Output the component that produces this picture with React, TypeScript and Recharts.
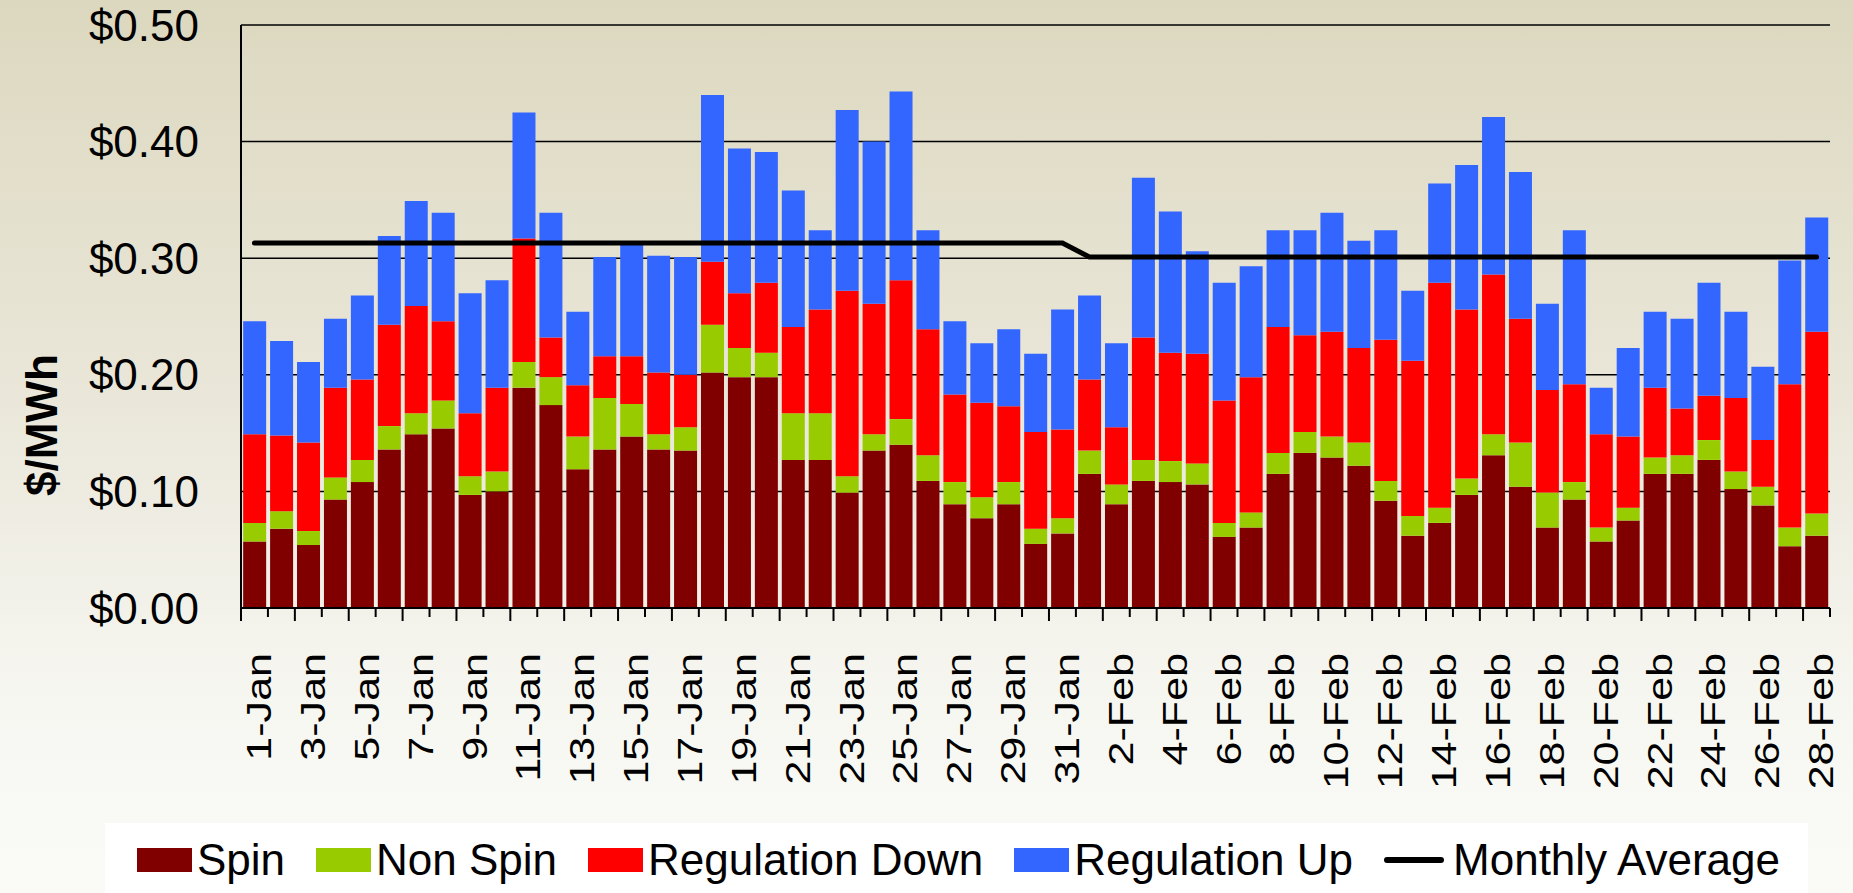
import React from "react"
import {
  ComposedChart,
  Bar,
  Line,
  XAxis,
  YAxis,
  CartesianGrid
} from "recharts"

const days = [
  "1-Jan", "2-Jan", "3-Jan", "4-Jan", "5-Jan", "6-Jan", "7-Jan", "8-Jan", "9-Jan", "10-Jan",
  "11-Jan", "12-Jan", "13-Jan", "14-Jan", "15-Jan", "16-Jan", "17-Jan", "18-Jan", "19-Jan", "20-Jan",
  "21-Jan", "22-Jan", "23-Jan", "24-Jan", "25-Jan", "26-Jan", "27-Jan", "28-Jan", "29-Jan", "30-Jan",
  "31-Jan",
  "1-Feb", "2-Feb", "3-Feb", "4-Feb", "5-Feb", "6-Feb", "7-Feb", "8-Feb", "9-Feb", "10-Feb",
  "11-Feb", "12-Feb", "13-Feb", "14-Feb", "15-Feb", "16-Feb", "17-Feb", "18-Feb", "19-Feb", "20-Feb",
  "21-Feb", "22-Feb", "23-Feb", "24-Feb", "25-Feb", "26-Feb", "27-Feb", "28-Feb"
]

const spin = [
  0.057, 0.068, 0.054, 0.093, 0.108, 0.136, 0.149, 0.154, 0.097, 0.100,
  0.189, 0.174, 0.119, 0.136, 0.147, 0.136, 0.135, 0.202, 0.198, 0.198,
  0.127, 0.127, 0.099, 0.135, 0.140, 0.109, 0.089, 0.077, 0.089, 0.055,
  0.064,
  0.115, 0.089, 0.109, 0.108, 0.106, 0.061, 0.069, 0.115, 0.133, 0.129,
  0.122, 0.092, 0.062, 0.073, 0.097, 0.131, 0.104, 0.069, 0.093, 0.057,
  0.075, 0.115, 0.115, 0.127, 0.102, 0.088, 0.053, 0.062
]

const nonSpin = [
  0.016, 0.015, 0.012, 0.019, 0.019, 0.020, 0.018, 0.024, 0.016, 0.017,
  0.022, 0.024, 0.028, 0.044, 0.028, 0.013, 0.020, 0.041, 0.025, 0.021,
  0.040, 0.040, 0.014, 0.014, 0.022, 0.022, 0.019, 0.018, 0.019, 0.013,
  0.013,
  0.020, 0.017, 0.018, 0.018, 0.018, 0.012, 0.013, 0.018, 0.018, 0.018,
  0.020, 0.017, 0.017, 0.013, 0.014, 0.018, 0.038, 0.030, 0.015, 0.012,
  0.011, 0.014, 0.016, 0.017, 0.015, 0.016, 0.016, 0.019
]

const regDown = [
  0.076, 0.065, 0.076, 0.077, 0.069, 0.087, 0.092, 0.068, 0.054, 0.072,
  0.106, 0.034, 0.044, 0.036, 0.041, 0.053, 0.045, 0.054, 0.047, 0.060,
  0.074, 0.089, 0.159, 0.112, 0.119, 0.108, 0.075, 0.081, 0.065, 0.083,
  0.076,
  0.061, 0.049, 0.105, 0.093, 0.094, 0.105, 0.116, 0.108, 0.083, 0.090,
  0.081, 0.121, 0.133, 0.193, 0.145, 0.137, 0.106, 0.088, 0.084, 0.080,
  0.061, 0.060, 0.040, 0.038, 0.063, 0.040, 0.123, 0.156
]

const regUp = [
  0.097, 0.081, 0.069, 0.059, 0.072, 0.076, 0.090, 0.093, 0.103, 0.092,
  0.108, 0.107, 0.063, 0.085, 0.096, 0.100, 0.101, 0.143, 0.124, 0.112,
  0.117, 0.068, 0.155, 0.139, 0.162, 0.085, 0.063, 0.051, 0.066, 0.067,
  0.103,
  0.072, 0.072, 0.137, 0.121, 0.088, 0.101, 0.095, 0.083, 0.090, 0.102,
  0.092, 0.094, 0.060, 0.085, 0.124, 0.135, 0.126, 0.074, 0.132, 0.040,
  0.076, 0.065, 0.077, 0.097, 0.074, 0.063, 0.106, 0.098
]

const months = ["Jan", "Feb"]
const monthlyAverage = [0.313, 0.301]

const yTicks = [0, 0.1, 0.2, 0.3, 0.4, 0.5]

const data = days.map((day, i) => ({
  day,
  spin: spin[i],
  nonSpin: nonSpin[i],
  regDown: regDown[i],
  regUp: regUp[i],
  avg: monthlyAverage[months.indexOf(day.split("-")[1])]
}))

const W = 1853
const H = 893
const PLOT_LEFT = 241
const PLOT_RIGHT = 23
const BAND = (W - PLOT_LEFT - PLOT_RIGHT) / days.length
const FONT = "'Liberation Sans', Arial, sans-serif"

const COLORS = {
  spin: "#800000",
  nonSpin: "#99CC00",
  regDown: "#FF0000",
  regUp: "#3366FF"
}

function DayTick(props: any) {
  const { x, y, payload, index } = props
  const left = x - BAND / 2
  return (
    <g>
      <line x1={left} x2={left} y1={y} y2={y + (index % 2 === 0 ? 13 : 9)} stroke="#000" strokeWidth={2} />
      {index === days.length - 1 && (
        <line x1={x + BAND / 2} x2={x + BAND / 2} y1={y} y2={y + 9} stroke="#000" strokeWidth={2} />
      )}
      {index % 2 === 0 && (
        <text
          transform={`translate(${x + 4},${y + 45}) rotate(-90) scale(1.23,1)`}
          textAnchor="end"
          dy="0.36em"
          fontSize={35}
          fontFamily={FONT}
          fill="#000"
        >
          {payload.value}
        </text>
      )}
    </g>
  )
}

const legendItems = [
  { name: "Spin", color: COLORS.spin },
  { name: "Non Spin", color: COLORS.nonSpin },
  { name: "Regulation Down", color: COLORS.regDown },
  { name: "Regulation Up", color: COLORS.regUp }
]

export default function App() {
  return (
    <div
      style={{
        position: "absolute",
        left: 0,
        top: 0,
        width: W,
        height: H,
        background: "linear-gradient(180deg, #DCD8BF 0%, #EAE7DA 45%, #F7F7F2 80%, #FAFAF7 100%)",
        fontFamily: FONT
      }}
    >
      <ComposedChart
        width={W}
        height={H}
        data={data}
        margin={{ top: 25, right: PLOT_RIGHT, bottom: 0, left: 0 }}
        barCategoryGap="8%"
      >
        <CartesianGrid horizontal vertical={false} stroke="#000" strokeWidth={1.5} />
        <XAxis
          dataKey="day"
          interval={0}
          height={285}
          tickLine={false}
          tickSize={0}
          tickMargin={0}
          axisLine={{ stroke: "#000", strokeWidth: 2 }}
          tick={<DayTick />}
        />
        <YAxis
          width={PLOT_LEFT}
          domain={[0, 0.5]}
          ticks={yTicks}
          tickFormatter={(v: number) => `$${v.toFixed(2)}`}
          tickLine={false}
          tickSize={0}
          tickMargin={42}
          axisLine={{ stroke: "#000", strokeWidth: 2 }}
          tick={{ fontSize: 44, fill: "#000", fontFamily: FONT }}
          label={{
            content: () => (
              <text
                transform="translate(57,425) rotate(-90)"
                textAnchor="middle"
                fontSize={44}
                fontWeight="bold"
                fontFamily={FONT}
                fill="#000"
              >
                $/MWh
              </text>
            )
          }}
        />
        <YAxis
          yAxisId="right"
          orientation="right"
          width={0}
          domain={[0, 0.5]}
          tick={false}
          tickLine={false}
          axisLine={{ stroke: "#000", strokeWidth: 2 }}
        />
        <Bar dataKey="spin" stackId="a" fill={COLORS.spin} isAnimationActive={false} />
        <Bar dataKey="nonSpin" stackId="a" fill={COLORS.nonSpin} isAnimationActive={false} />
        <Bar dataKey="regDown" stackId="a" fill={COLORS.regDown} isAnimationActive={false} />
        <Bar dataKey="regUp" stackId="a" fill={COLORS.regUp} isAnimationActive={false} />
        <Line
          dataKey="avg"
          type="linear"
          stroke="#000"
          strokeWidth={5}
          strokeLinecap="round"
          dot={false}
          activeDot={false}
          isAnimationActive={false}
        />
      </ComposedChart>

      <div
        style={{
          position: "absolute",
          left: 105,
          top: 823,
          width: 1703,
          height: 70,
          background: "#fff",
          display: "flex",
          alignItems: "center",
          paddingLeft: 32,
          paddingTop: 4,
          boxSizing: "border-box",
          fontSize: 44,
          color: "#000"
        }}
      >
        {legendItems.map((item) => (
          <div key={item.name} style={{ display: "flex", alignItems: "center", marginRight: 31 }}>
            <div style={{ width: 55, height: 24, background: item.color, marginRight: 5 }} />
            <span>{item.name}</span>
          </div>
        ))}
        <div style={{ display: "flex", alignItems: "center" }}>
          <div style={{ width: 60, height: 6, borderRadius: 3, background: "#000", marginRight: 9 }} />
          <span>Monthly Average</span>
        </div>
      </div>
    </div>
  )
}
